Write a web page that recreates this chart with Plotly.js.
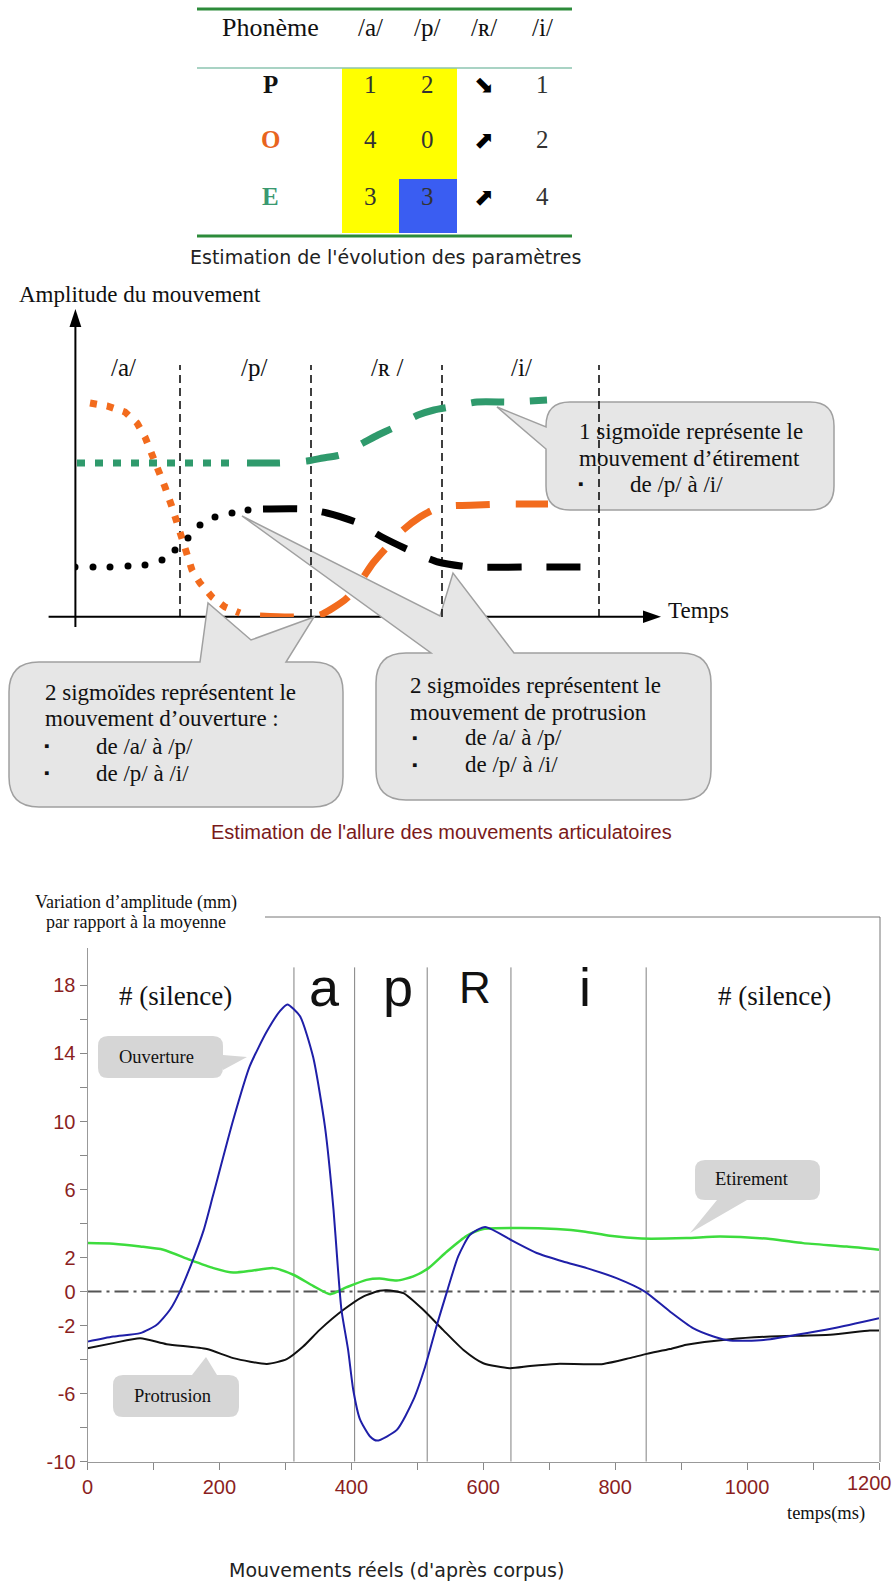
<!DOCTYPE html>
<html>
<head>
<meta charset="utf-8">
<script src="https://cdn.plot.ly/plotly-3.0.1.min.js"></script>
<style>
  body { margin: 0; background: #fff; }
  #myDiv { width: 896px; height: 1584px; }
</style>
</head>
<body>
<div id="myDiv"></div>
<script>
// ---- tableau des paramètres ----
var phonemes = ['/a/', '/p/', '/ʀ/', '/i/'];
var params = ['P', 'O', 'E'];
var scoreA = [1, 4, 3];
var scoreP = [2, 0, 3];
var trendR = ['⬊', '⬈', '⬈'];
var scoreI = [1, 2, 4];

// ---- schéma (unités arbitraires) ----
var schemaPhon = ['/a/', '/p/', '/ʀ /', '/i/'];
var schemaBounds = [105, 236, 367, 524];
var ouvT = [15, 32, 50, 62, 70, 77, 83, 90, 97, 103, 110, 117, 125, 137, 150, 165, 185, 215, 245, 258, 272, 285, 298, 312, 328, 345, 358, 375, 402, 435, 473];
var ouvA = [214, 211, 205, 194, 180, 164, 147, 130, 110, 90, 65, 47, 34, 20, 10, 4, 1, 0, 2, 9, 19, 35, 54, 70, 87, 100, 107, 111, 112, 113, 113];
var etiT = [2, 162, 172, 205, 232, 248, 265, 288, 303, 318, 343, 359, 375, 402, 437, 472];
var etiA = [154, 154, 154, 154, 156, 159, 162, 174, 182, 189, 202, 207, 210, 215, 215, 217];
var proT = [0, 18, 35, 53, 70, 87, 100, 113, 125, 140, 157, 173, 188, 228, 252, 283, 307, 338, 363, 395, 457, 516];
var proA = [50, 50, 50, 51, 52, 57, 67, 79, 92, 100, 104, 107, 108, 108, 104, 94, 80, 65, 55, 50, 50, 50];

// ---- mouvements réels (corpus) ----
var corpusBounds = [313, 405, 515, 642, 847];
var corpusPhon = ['# (silence)', 'a', 'p', 'R', 'i', '# (silence)'];
var yLabels = [18, 14, 10, 6, 2, 0, -2, -6, -10];
var ouvMs = [0, 39, 80, 105, 125, 140, 158, 176, 190, 221, 246, 272, 292, 303, 322, 342, 360, 373, 379, 385, 395, 403, 413, 428, 439, 469, 494, 512, 529, 545, 562, 580, 603, 646, 681, 721, 757, 802, 845, 883, 918, 949, 974, 1025, 1075, 1131, 1200];
var ouvMm = [-2.94, -2.64, -2.44, -1.95, -1.07, 0, 1.68, 3.6, 5.6, 10.1, 13.25, 15.3, 16.5, 16.88, 16.2, 13.8, 9.7, 4.8, 1.7, -1.07, -3.4, -5.8, -7.5, -8.5, -8.76, -8.13, -6.37, -4.4, -2.05, 0, 2.07, 3.34, 3.8, 2.95, 2.27, 1.77, 1.38, 0.79, 0, -1.17, -2.15, -2.64, -2.88, -2.84, -2.54, -2.15, -1.56];
var etiMs = [0, 39, 80, 115, 155, 191, 221, 251, 282, 312, 342, 368, 393, 423, 443, 469, 494, 517, 545, 575, 600, 656, 711, 752, 792, 840, 908, 959, 1035, 1085, 1151, 1200];
var etiMm = [2.85, 2.81, 2.65, 2.46, 1.87, 1.38, 1.12, 1.24, 1.38, 0.99, 0.34, -0.15, 0.26, 0.69, 0.77, 0.65, 0.89, 1.38, 2.36, 3.28, 3.68, 3.74, 3.68, 3.54, 3.28, 3.12, 3.15, 3.24, 3.09, 2.85, 2.65, 2.46];
var proMs = [0, 39, 80, 120, 181, 221, 272, 302, 327, 352, 388, 418, 443, 454, 479, 509, 539, 570, 600, 640, 671, 711, 782, 822, 848, 883, 908, 974, 1035, 1126, 1186, 1200];
var proMm = [-3.33, -3.03, -2.74, -3.09, -3.38, -3.91, -4.25, -3.97, -3.23, -2.25, -1.07, -0.29, 0.05, 0.08, -0.09, -1.07, -2.25, -3.43, -4.21, -4.5, -4.37, -4.25, -4.25, -3.91, -3.66, -3.38, -3.13, -2.8, -2.64, -2.54, -2.29, -2.29];

var W = 896, H = 1584;
function px(v) { return v / W; }
function py(v) { return 1 - v / H; }

var SERIF = '"Liberation Serif", "Times New Roman", serif';
var SANS = '"Liberation Sans", Arial, sans-serif';
var DEJA = '"DejaVu Sans", sans-serif';
var RED = '#8b1f1f';
var ORANGE = '#f26b1d', GREEN = '#2f9a6c';

var annotations = [];
var shapes = [];

function txt(x, y, text, size, opt) {
  opt = opt || {};
  annotations.push({
    xref: 'paper', yref: 'paper', x: px(x), y: py(y), text: text, showarrow: false,
    xanchor: opt.anchor || 'center', yanchor: 'middle',
    font: { family: opt.family || SERIF, size: size, color: opt.color || '#111' }
  });
}
function pline(x0, y0, x1, y1, color, width) {
  shapes.push({ type: 'line', xref: 'paper', yref: 'paper', x0: px(x0), y0: py(y0), x1: px(x1), y1: py(y1),
    line: { color: color, width: width }, layer: 'below' });
}
function prect(x0, y0, x1, y1, fill) {
  shapes.push({ type: 'rect', xref: 'paper', yref: 'paper', x0: px(x0), y0: py(y0), x1: px(x1), y1: py(y1),
    fillcolor: fill, line: { width: 0 }, layer: 'below' });
}
function P(x, y) { return px(x) + ',' + py(y); }
function bubble(x0, y0, x1, y1, r, side, pts, fill, lineCol) {
  var add = function(s) { var d = ''; if (side === s) pts.forEach(function(p) { d += ' L' + P(p[0], p[1]); }); return d; };
  var d = 'M' + P(x0 + r, y0) + add('top');
  d += ' L' + P(x1 - r, y0) + ' Q' + P(x1, y0) + ' ' + P(x1, y0 + r) + add('right');
  d += ' L' + P(x1, y1 - r) + ' Q' + P(x1, y1) + ' ' + P(x1 - r, y1) + add('bottom');
  d += ' L' + P(x0 + r, y1) + ' Q' + P(x0, y1) + ' ' + P(x0, y1 - r) + add('left');
  d += ' L' + P(x0, y0 + r) + ' Q' + P(x0, y0) + ' ' + P(x0 + r, y0) + ' Z';
  shapes.push({ type: 'path', xref: 'paper', yref: 'paper', path: d, fillcolor: fill,
    line: { color: lineCol || fill, width: lineCol ? 1.5 : 0 }, layer: 'below' });
}

// ===== tableau =====
var colX = [270, 370, 427, 484, 542];
var rowY = [85, 140, 197];
prect(342, 68, 457, 233, '#ffff00');
prect(399, 179, 457, 233, '#3a5df2');
pline(197, 9, 572, 9, '#2c8b3a', 3);
pline(197, 68, 572, 68, '#8cc4b0', 1.5);
pline(197, 236, 572, 236, '#2c8b3a', 3);
txt(colX[0], 28, 'Phonème', 26);
phonemes.forEach(function(p, i) { txt(colX[i + 1], 28, p, 25); });
var paramColors = ['#111', '#e8641e', '#3a9970'];
params.forEach(function(p, r) {
  txt(colX[0], rowY[r], '<b>' + p + '</b>', 25, { color: paramColors[r] });
  txt(colX[1], rowY[r], String(scoreA[r]), 25, { color: '#333' });
  txt(colX[2], rowY[r], String(scoreP[r]), 25, { color: '#333' });
  txt(colX[3], rowY[r], trendR[r], 24, { family: DEJA, color: '#000' });
  txt(colX[4], rowY[r], String(scoreI[r]), 25, { color: '#333' });
});
txt(385, 257, "Estimation de l'évolution des paramètres", 19, { family: DEJA, color: '#222' });

// ===== schéma =====
pline(75.4, 627, 75.4, 322, '#000', 2);
pline(48.6, 616.7, 646, 616.7, '#000', 2);
shapes.push({ type: 'path', xref: 'paper', yref: 'paper', fillcolor: '#000', line: { width: 0 },
  path: 'M' + P(75.4, 309) + ' L' + P(69.5, 327) + ' L' + P(81.3, 327) + ' Z' });
shapes.push({ type: 'path', xref: 'paper', yref: 'paper', fillcolor: '#000', line: { width: 0 },
  path: 'M' + P(661, 616.7) + ' L' + P(643, 610.5) + ' L' + P(643, 622.9) + ' Z' });
schemaBounds.forEach(function(b) {
  shapes.push({ type: 'line', xref: 'x2', yref: 'y2', x0: b, x1: b, y0: 0, y1: 252,
    line: { color: '#000', width: 1.5, dash: '8px,5px' }, layer: 'below' });
});
txt(17, 295, 'Amplitude du mouvement', 23, { anchor: 'left' });
txt(666, 610, 'Temps', 23, { anchor: 'left' });
var schemaLabX = [123, 254, 387, 521];
schemaPhon.forEach(function(p, i) { txt(schemaLabX[i], 367, p, 25); });

bubble(546, 402, 834, 510, 24, 'left', [[546, 449], [497, 407], [546, 427]], '#e6e6e6', '#a0a0a0');
bubble(9, 662, 343, 807, 30, 'top', [[200, 662], [208, 603], [251, 640], [314, 617], [286, 662]], '#e6e6e6', '#a0a0a0');
bubble(376, 653, 711, 800, 30, 'top', [[431, 653], [242, 516], [440, 616], [453, 573], [514, 653]], '#e6e6e6', '#a0a0a0');

txt(577, 432, '1 sigmoïde représente le', 23, { anchor: 'left' });
txt(577, 458, 'mouvement d’étirement', 23, { anchor: 'left' });
txt(580, 484, '▪', 15); txt(628, 484, 'de /p/ à /i/', 23, { anchor: 'left' });

txt(43, 692, '2 sigmoïdes représentent le', 23, { anchor: 'left' });
txt(43, 718, 'mouvement d’ouverture :', 23, { anchor: 'left' });
txt(46, 746, '▪', 15); txt(94, 746, 'de /a/ à /p/', 23, { anchor: 'left' });
txt(46, 773, '▪', 15); txt(94, 773, 'de /p/ à /i/', 23, { anchor: 'left' });

txt(408, 685, '2 sigmoïdes représentent le', 23, { anchor: 'left' });
txt(408, 712, 'mouvement de protrusion', 23, { anchor: 'left' });
txt(414, 738, '▪', 15); txt(463, 738, 'de /a/ à /p/', 23, { anchor: 'left' });
txt(414, 765, '▪', 15); txt(463, 765, 'de /p/ à /i/', 23, { anchor: 'left' });

txt(441, 832, "Estimation de l'allure des mouvements articulatoires", 20, { family: SANS, color: '#7a1a1a' });

// découpage des styles (pointillé -> tirets)
function part(xs, ys, test) {
  var o = { x: [], y: [] };
  xs.forEach(function(v, i) { if (test(v)) { o.x.push(v); o.y.push(ys[i]); } });
  return o;
}
var ouvDot = part(ouvT, ouvA, function(t) { return t <= 165; });
var ouvDash = part(ouvT, ouvA, function(t) { return t >= 185; });
var etiDot = part(etiT, etiA, function(t) { return t <= 162; });
var etiDash = part(etiT, etiA, function(t) { return t >= 172; });
var proDot = part(proT, proA, function(t) { return t <= 173; });
var proDash = part(proT, proA, function(t) { return t >= 188; });

// ===== mouvements réels =====
pline(265, 917, 880, 917, '#777', 1);
pline(880, 917, 880, 1462, '#777', 1);
corpusBounds.forEach(function(b) {
  shapes.push({ type: 'line', xref: 'x', yref: 'y', x0: b, x1: b, y0: -10, y1: 19.06,
    line: { color: '#808080', width: 1 }, layer: 'below' });
});
shapes.push({ type: 'line', xref: 'x', yref: 'y', x0: 0, x1: 1200, y0: 0, y1: 0,
  line: { color: '#555', width: 2, dash: '14px,5px,3px,5px' }, layer: 'below' });

bubble(98, 1036, 223, 1078, 10, 'right', [[223, 1055], [247, 1057], [223, 1070]], '#d6d6d6');
bubble(113, 1375, 239, 1417, 10, 'top', [[192, 1375], [206, 1357], [217, 1375]], '#d6d6d6');
bubble(695, 1160, 820, 1200, 10, 'bottom', [[747, 1200], [690, 1233], [717, 1200]], '#d6d6d6');
txt(156, 1057, 'Ouverture', 18.5);
txt(172, 1396, 'Protrusion', 18.5);
txt(752, 1179, 'Etirement', 18.5);

var phonMs = [134, 359, 471, 588, 755, 1041];
corpusPhon.forEach(function(p, i) {
  var big = p.length === 1;
  annotations.push({ xref: 'x', yref: 'y', x: phonMs[i], y: big ? 17.9 : 17.4, text: p, showarrow: false,
    xanchor: 'center', yanchor: 'middle',
    font: { family: big ? SANS : SERIF, size: big ? (p === 'R' ? 44 : 54) : 27, color: '#111' } });
});
txt(136, 902, 'Variation d’amplitude (mm)', 18);
txt(136, 922, 'par rapport à la moyenne', 18);
txt(826, 1513, 'temps(ms)', 18.5);
txt(396, 1570, "Mouvements réels (d'après corpus)", 19, { family: DEJA, color: '#222' });

var yTicks = [], yText = [];
for (var v = -10; v <= 18; v += 2) { yTicks.push(v); yText.push(yLabels.indexOf(v) >= 0 ? String(v) : ''); }
var xTicks = [], xText = [];
for (var m = 0; m <= 1200; m += 100) {
  xTicks.push(m);
  xText.push(m % 200 === 0 && m < 1200 ? String(m) : '');
}
// le dernier libellé, au bord de l'image, est décalé vers la gauche
annotations.push({ xref: 'x', yref: 'paper', x: 1200, y: py(1483), xshift: -10, text: '1200', showarrow: false,
  xanchor: 'center', yanchor: 'middle', font: { family: SANS, size: 20, color: RED } });

var data = [
  { x: ouvDot.x, y: ouvDot.y, xaxis: 'x2', yaxis: 'y2', mode: 'lines', line: { color: ORANGE, width: 7, dash: '7px,10px' } },
  { x: ouvDash.x, y: ouvDash.y, xaxis: 'x2', yaxis: 'y2', mode: 'lines', line: { color: ORANGE, width: 7, dash: '34px,26px', shape: 'spline', smoothing: 0.6 } },
  { x: etiDot.x, y: etiDot.y, xaxis: 'x2', yaxis: 'y2', mode: 'lines', line: { color: GREEN, width: 7, dash: '8px,10px' } },
  { x: etiDash.x, y: etiDash.y, xaxis: 'x2', yaxis: 'y2', mode: 'lines', line: { color: GREEN, width: 7, dash: '33px,26px', shape: 'spline', smoothing: 0.6 } },
  { x: proDot.x, y: proDot.y, xaxis: 'x2', yaxis: 'y2', mode: 'markers', marker: { color: '#000', size: 7 } },
  { x: proDash.x, y: proDash.y, xaxis: 'x2', yaxis: 'y2', mode: 'lines', line: { color: '#000', width: 7, dash: '34px,25px', shape: 'spline', smoothing: 0.6 } },
  { x: etiMs, y: etiMm, mode: 'lines', name: 'Etirement', line: { color: '#3ddc3d', width: 2.5, shape: 'spline', smoothing: 0.6 } },
  { x: proMs, y: proMm, mode: 'lines', name: 'Protrusion', line: { color: '#111', width: 2, shape: 'spline', smoothing: 0.6 } },
  { x: ouvMs, y: ouvMm, mode: 'lines', name: 'Ouverture', line: { color: '#1f1fa8', width: 2, shape: 'spline', smoothing: 0.6 } }
];

var layout = {
  width: W, height: H,
  margin: { l: 0, r: 0, t: 0, b: 0 },
  paper_bgcolor: '#fff', plot_bgcolor: 'rgba(0,0,0,0)',
  showlegend: false,
  xaxis: {
    domain: [px(87.5), px(879)], range: [0, 1200], anchor: 'y',
    tickmode: 'array', tickvals: xTicks, ticktext: xText, ticks: 'outside', ticklen: 7, tickcolor: '#888',
    showline: true, linecolor: '#999', linewidth: 1, showgrid: false, zeroline: false,
    tickfont: { family: SANS, size: 20, color: RED }
  },
  yaxis: {
    domain: [py(1461.7), py(948)], range: [-10, 20.2], anchor: 'x',
    tickmode: 'array', tickvals: yTicks, ticktext: yText, ticks: 'outside', ticklen: 7, tickcolor: '#888',
    showline: true, linecolor: '#999', linewidth: 1, showgrid: false, zeroline: false,
    tickfont: { family: SANS, size: 20, color: RED }
  },
  xaxis2: { domain: [px(75), px(657)], range: [0, 582], anchor: 'y2', visible: false },
  yaxis2: { domain: [py(617), py(313)], range: [0, 304], anchor: 'x2', visible: false },
  annotations: annotations,
  shapes: shapes
};

Plotly.newPlot('myDiv', data, layout, { staticPlot: true, displayModeBar: false });
</script>
</body>
</html>
